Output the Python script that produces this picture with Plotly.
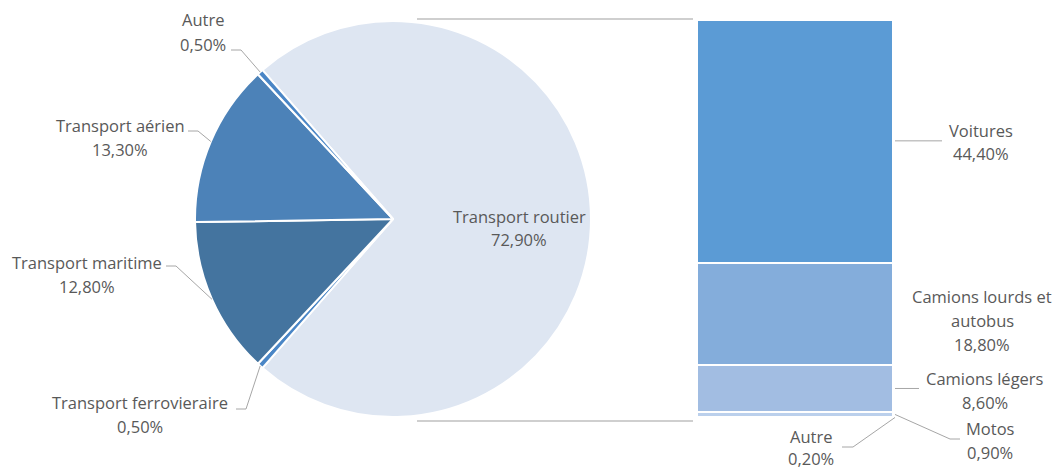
import math
import plotly.graph_objects as go

# ---- data ----
pie_labels = ["Transport routier", "Transport ferrovieraire", "Transport maritime",
              "Transport aérien", "Autre"]
pie_values = [72.9, 0.5, 12.8, 13.3, 0.5]
pie_colors = ["#DEE6F2", "#4A86C6", "#44749F", "#4C82B8", "#4A86C6"]

bar_labels = ["Autre", "Motos", "Camions légers", "Camions lourds et autobus", "Voitures"]
bar_values = [0.2, 0.9, 8.6, 18.8, 44.4]
bar_colors = ["#C9D8EF", "#BBD0EC", "#A2BDE2", "#84ADDB", "#5B9BD5"]

# ---- layout geometry (pixels) ----
W, H = 1054, 470
PIE_CX, PIE_CY, PIE_R = 393, 219, 198
BAR_X0, BAR_X1, BAR_TOP, BAR_BOT = 697, 893, 19.5, 418

TEXT = "#595959"
LEADER = "#A6A6A6"
FONT = "Open Sans"
FS = 16.5


def px(x):
    return x / W


def py(y):
    return 1 - y / H


def fmt(v):
    return f"{v:.2f}".replace(".", ",") + "%"


total = sum(pie_values)
# road slice centred on the right-hand side, slices run clockwise
rotation = 90 - pie_values[0] / total * 360 / 2

fig = go.Figure()

fig.add_trace(go.Pie(
    labels=pie_labels, values=pie_values, sort=False, direction="clockwise",
    rotation=rotation, marker=dict(colors=pie_colors, line=dict(color="white", width=2)),
    textinfo="none", hoverinfo="label+percent", showlegend=False,
    domain=dict(x=[px(PIE_CX - PIE_R), px(PIE_CX + PIE_R)],
                y=[py(PIE_CY + PIE_R), py(PIE_CY - PIE_R)]),
))

for lab, val, col in zip(bar_labels, bar_values, bar_colors):
    fig.add_trace(go.Bar(
        x=[0], y=[val], name=lab, width=1, marker=dict(color=col, line=dict(color="white", width=2)),
        showlegend=False, hovertemplate=lab + ": %{y}<extra></extra>",
    ))

bar_total = sum(bar_values)
fig.update_layout(
    width=W, height=H, margin=dict(l=0, r=0, t=0, b=0),
    paper_bgcolor="white", plot_bgcolor="rgba(0,0,0,0)",
    barmode="stack", bargap=0,
    separators=", ",
    xaxis=dict(domain=[px(BAR_X0), px(BAR_X1)], range=[-0.5, 0.5], visible=False, fixedrange=True),
    yaxis=dict(domain=[py(BAR_BOT), py(BAR_TOP)], range=[0, bar_total], visible=False, fixedrange=True),
    font=dict(family=FONT, color=TEXT, size=FS),
)


def slice_point(index):
    # point on the circumference at the middle of slice `index`
    start = rotation + sum(pie_values[:index]) / total * 360
    mid = start + pie_values[index] / total * 360 / 2
    a = math.radians(mid)
    return PIE_CX + PIE_R * math.sin(a), PIE_CY - PIE_R * math.cos(a)


def bar_point(index):
    # right edge of the bar at the middle of segment `index`
    base = sum(bar_values[:index]) + bar_values[index] / 2
    y = BAR_BOT - base / bar_total * (BAR_BOT - BAR_TOP)
    return BAR_X1 + 2, y


def text_lines(lines, cx, y0, step=24):
    for i, t in enumerate(lines):
        fig.add_annotation(x=px(cx), y=py(y0 + i * step), xref="paper", yref="paper",
                           text=t, showarrow=False, xanchor="center", yanchor="middle",
                           font=dict(family=FONT, size=FS, color=TEXT))


def leader(points):
    path = "M " + " L ".join(f"{px(x)},{py(y)}" for x, y in points)
    fig.add_shape(type="path", path=path, xref="paper", yref="paper",
                  line=dict(color=LEADER, width=1))


# pie labels: (index, text centre x, first line y, elbow points from text side)
pie_label_pos = {
    4: (203, 20, [(231, 50), (241, 50)]),
    3: (120, 125, [(188, 131), (198, 131)]),
    2: (87, 262, [(166, 266), (176, 266)]),
    1: (140, 402, [(236, 409), (246, 409)]),
}
for idx, (cx, y0, elbow) in pie_label_pos.items():
    text_lines([pie_labels[idx], fmt(pie_values[idx])], cx, y0)
    leader(elbow + [slice_point(idx)])

# road label sits inside its slice
text_lines([pie_labels[0], fmt(pie_values[0])], 519, 216)

# bar labels
bar_label_pos = {
    4: (981, 130, ["Voitures"], [(942, 141)]),
    3: (982, 296, ["Camions lourds et", "autobus"], None),
    2: (985, 378, ["Camions légers"], [(919, 389)]),
    1: (990, 428, ["Motos"], [(960, 439), (950, 439)]),
    0: (811, 436, ["Autre"], [(842, 447), (853, 447)]),
}
for idx, (cx, y0, names, elbow) in bar_label_pos.items():
    step = 22 if idx == 0 else 24
    text_lines(names + [fmt(bar_values[idx])], cx, y0, step)
    if elbow:
        x, y = bar_point(idx)
        if len(elbow) == 1:
            leader([(x, y), (elbow[0][0], y)])
        else:
            leader(elbow + [(x, y)])

# series lines joining the pie to the bar
for y in (BAR_TOP - 0.5, BAR_BOT + 3):
    fig.add_shape(type="line", xref="paper", yref="paper",
                  x0=px(417), x1=px(BAR_X0 - 4), y0=py(y), y1=py(y),
                  line=dict(color="#BFBFBF", width=1.5))

fig.write_html("out.html")
